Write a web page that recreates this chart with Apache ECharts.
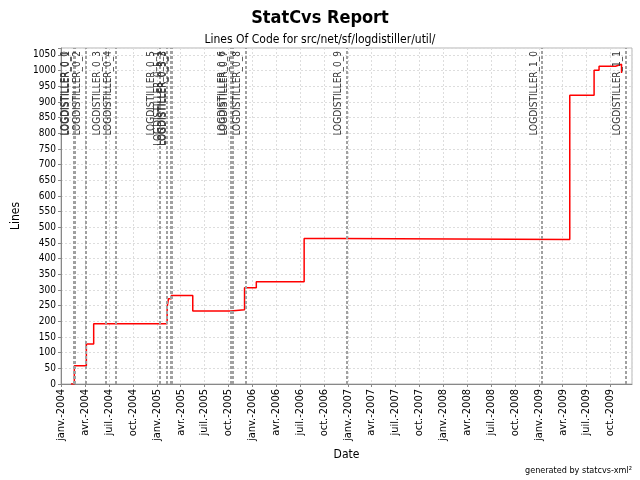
<!DOCTYPE html>
<html><head><meta charset="utf-8">
<script src="https://cdn.jsdelivr.net/npm/echarts@6/dist/echarts.min.js"></script>
<style>html,body{margin:0;padding:0;background:#fff}#c{width:640px;height:480px}</style>
</head><body><div id="c"></div>
<script>
const dates = ['2004-02-06','2004-02-19','2004-04-05','2004-05-03','2005-02-08','2005-02-13','2005-02-24','2005-05-17','2005-10-09','2005-12-01','2006-01-15','2006-07-17','2006-11-27','2009-04-28','2009-07-30','2009-08-18','2009-10-20','2009-11-12'];
const lines = [0,58,128,192,245,272,282,233,237,307,326,464,461,921,1001,1014,1020,992];
const tagNames = ['LOGDISTILLER_0_0','LOGDISTILLER_0_1','LOGDISTILLER_0_2','LOGDISTILLER_0_3','LOGDISTILLER_0_4','LOGDISTILLER_0_5','LOGDISTILLER_0_5_1','LOGDISTILLER_0_5_2','LOGDISTILLER_0_5_3','LOGDISTILLER_0_6','LOGDISTILLER_0_7','LOGDISTILLER_0_8','LOGDISTILLER_0_9','LOGDISTILLER_1_0','LOGDISTILLER_1_1'];
const tagDates = ['2004-02-17','2004-02-21','2004-04-03','2004-06-18','2004-07-28','2005-01-09','2005-02-06','2005-02-20','2005-02-24','2005-10-09','2005-10-16','2005-12-05','2006-12-26','2009-01-12','2009-11-28'];
const monthNames = ['janv.','févr.','mars','avr.','mai','juin','juil.','août','sept.','oct.','nov.','déc.'];
const xMin = '2003-12-30', xMax = '2009-12-22';
const yMax = 1072;

const FONT = "'DejaVu Sans Condensed','DejaVu Sans',sans-serif";
const chart = echarts.init(document.getElementById('c'), null, {renderer:'canvas'});
const seriesData = dates.map((d,i)=>[d, lines[i]]);
chart.setOption({
  animation:false,
  backgroundColor:'#fff',
  title:[
    {text:'StatCvs Report', left:'center', top:4, textStyle:{fontFamily:FONT, fontSize:18, fontWeight:'bold', color:'#000'}},
    {text:'Lines Of Code for src/net/sf/logdistiller/util/', left:'center', top:29, textStyle:{fontFamily:FONT, fontSize:12, fontWeight:'normal', color:'#000'}}
  ],
  graphic:[{type:'text', right:8, top:466, style:{text:'generated by statcvs-xml²', font:"9px "+FONT, fill:'#000'}}],
  grid:{left:61, right:8, top:48, bottom:96, show:true, borderColor:'#b4b4b4', borderWidth:1},
  xAxis:{
    type:'time', min:xMin, max:xMax,
    minInterval:89*86400000, maxInterval:92*86400000,
    name:'Date', nameLocation:'middle', nameGap:63,
    nameTextStyle:{fontFamily:FONT, fontSize:12, color:'#000'},
    axisLine:{lineStyle:{color:'#888'}},
    axisTick:{show:true, length:3, lineStyle:{color:'#888'}},
    axisLabel:{rotate:90, fontFamily:FONT, fontSize:11, color:'#000', margin:5, hideOverlap:false,
      formatter:function(v){const d=new Date(v); return monthNames[d.getMonth()]+'-'+d.getFullYear();}},
    splitLine:{show:true, lineStyle:{color:'#ddd', type:[2,2]}}
  },
  yAxis:{
    type:'value', min:0, max:yMax, interval:50,
    name:'Lines', nameLocation:'middle', nameGap:35,
    nameTextStyle:{fontFamily:FONT, fontSize:12, color:'#000'},
    axisLine:{show:true, lineStyle:{color:'#888'}},
    axisTick:{show:true, length:3, lineStyle:{color:'#888'}},
    axisLabel:{fontFamily:FONT, fontSize:10, color:'#000', margin:5,
      formatter:function(v){return v%50===0? String(v):'';}},
    splitLine:{show:true, lineStyle:{color:'#ddd', type:[2,2]}}
  },
  series:[{
    type:'line', step:'end', data:seriesData, showSymbol:false, symbol:'none',
    lineStyle:{color:'#ff0000', width:1.5},
    markLine:{
      silent:true, symbol:'none',
      lineStyle:{color:'#a0a0a0', width:2, type:[3,2]},
      label:{show:true, position:'insideEndTop', formatter:'{b}', fontFamily:FONT, fontSize:10, color:'#333', distance:3},
      data: tagDates.map((d,i)=>({name:tagNames[i], xAxis:d}))
    }
  }]
});
</script></body></html>
